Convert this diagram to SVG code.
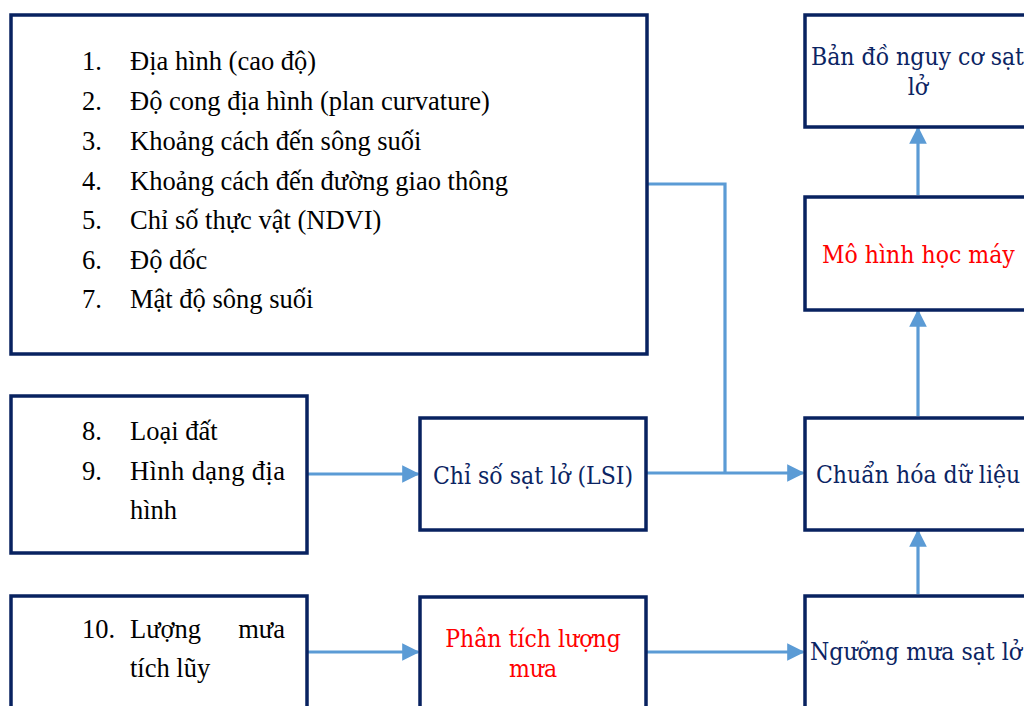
<svg xmlns="http://www.w3.org/2000/svg" width="1024" height="706" viewBox="0 0 1024 706">
  <defs>
    <style>
      .box { fill: #ffffff; stroke: #082260; stroke-width: 3.5; }
      .list { font-family: "Liberation Serif", "Times New Roman", serif; font-size: 26.5px; fill: #000000; }
      .lbl { font-family: "DejaVu Serif Condensed", "DejaVu Serif", serif; font-size: 24.5px; fill: #0b2463; }
      .red { fill: #ff0000; }
      .wire { fill: none; stroke: #5b9bd5; stroke-width: 3.2; }
    </style>
    <marker id="arrow" viewBox="0 0 10 10" refX="9" refY="5" markerWidth="5.5" markerHeight="5.5" orient="auto" markerUnits="strokeWidth">
      <path d="M0,0 L10,5 L0,10 Z" fill="#5b9bd5"/>
    </marker>
  </defs>

  <rect width="1024" height="706" fill="#ffffff"/>

  <!-- connectors -->
  <g id="connectors">
    <polyline class="wire" points="647,184 725,184 725,473"/>
    <line class="wire" x1="308" y1="474" x2="418" y2="474" marker-end="url(#arrow)"/>
    <line class="wire" x1="647" y1="473" x2="803" y2="473" marker-end="url(#arrow)"/>
    <line class="wire" x1="308" y1="652" x2="418" y2="652" marker-end="url(#arrow)"/>
    <line class="wire" x1="647" y1="652" x2="803" y2="652" marker-end="url(#arrow)"/>
    <line class="wire" x1="918" y1="594" x2="918" y2="531" marker-end="url(#arrow)"/>
    <line class="wire" x1="918" y1="416" x2="918" y2="311" marker-end="url(#arrow)"/>
    <line class="wire" x1="918" y1="195" x2="918" y2="128" marker-end="url(#arrow)"/>
  </g>

  <!-- factors 1-7 -->
  <g id="factors-terrain">
    <rect class="box" x="11" y="15" width="636" height="339"/>
    <g class="list">
      <text x="82" y="70">1.</text><text x="130" y="70">Địa hình (cao độ)</text>
      <text x="82" y="110">2.</text><text x="130" y="110">Độ cong địa hình (plan curvature)</text>
      <text x="82" y="150">3.</text><text x="130" y="150">Khoảng cách đến sông suối</text>
      <text x="82" y="190">4.</text><text x="130" y="190">Khoảng cách đến đường giao thông</text>
      <text x="82" y="229">5.</text><text x="130" y="229">Chỉ số thực vật (NDVI)</text>
      <text x="82" y="269">6.</text><text x="130" y="269">Độ dốc</text>
      <text x="82" y="308">7.</text><text x="130" y="308">Mật độ sông suối</text>
    </g>
  </g>

  <!-- factors 8-9 -->
  <g id="factors-soil">
    <rect class="box" x="11" y="396" width="296" height="157"/>
    <g class="list">
      <text x="82" y="440">8.</text><text x="130" y="440">Loại đất</text>
      <text x="82" y="480">9.</text><text x="130" y="480" textLength="155">Hình dạng địa</text>
      <text x="130" y="519">hình</text>
    </g>
  </g>

  <!-- factor 10 -->
  <g id="factors-rain">
    <rect class="box" x="11" y="596" width="296" height="120"/>
    <g class="list">
      <text x="82" y="638">10.</text><text x="130" y="638">Lượng</text><text x="285" y="638" text-anchor="end">mưa</text>
      <text x="130" y="677">tích lũy</text>
    </g>
  </g>

  <!-- landslide susceptibility index -->
  <g id="lsi">
    <rect class="box" x="420" y="418" width="226" height="112"/>
    <text class="lbl" x="533" y="484" text-anchor="middle">Chỉ số sạt lở (LSI)</text>
  </g>

  <!-- rainfall analysis -->
  <g id="rain-analysis">
    <rect class="box" x="420" y="597" width="226" height="120"/>
    <text class="lbl red" x="533" y="647" text-anchor="middle">Phân tích lượng</text>
    <text class="lbl red" x="533" y="677" text-anchor="middle">mưa</text>
  </g>

  <!-- normalisation -->
  <g id="normalize">
    <rect class="box" x="805" y="418" width="230" height="112"/>
    <text class="lbl" x="816" y="483">Chuẩn hóa dữ liệu</text>
  </g>

  <!-- rainfall threshold -->
  <g id="threshold">
    <rect class="box" x="805" y="596" width="230" height="120"/>
    <text class="lbl" x="810" y="660">Ngưỡng mưa sạt lở</text>
  </g>

  <!-- machine learning model -->
  <g id="ml-model">
    <rect class="box" x="805" y="197" width="230" height="113"/>
    <text class="lbl red" x="822" y="263">Mô hình học máy</text>
  </g>

  <!-- hazard map -->
  <g id="hazard-map">
    <rect class="box" x="805" y="15" width="230" height="112"/>
    <text class="lbl" x="811" y="65">Bản đồ nguy cơ sạt</text>
    <text class="lbl" x="918" y="95" text-anchor="middle">lở</text>
  </g>
</svg>
